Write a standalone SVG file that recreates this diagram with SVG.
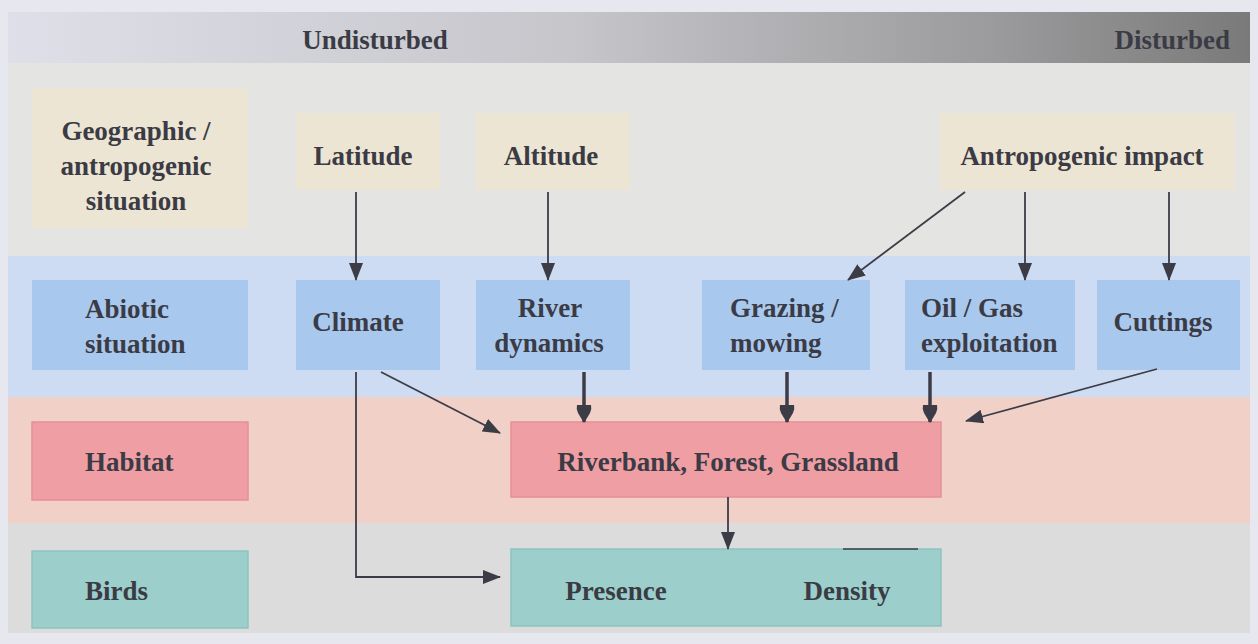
<svg xmlns="http://www.w3.org/2000/svg" width="1258" height="644" viewBox="0 0 1258 644">
<style>
.t{font-family:"Liberation Serif","Times New Roman",serif;font-weight:bold;font-size:27px;fill:#3b3b45}
.c{text-anchor:middle}
.y{fill:#ede5d3}
.b{fill:#a9c8ee}
.r{fill:#ef9ea3;stroke:#e68f96;stroke-width:1.5}
.g{fill:#9ccfcb;stroke:#8cc3bf;stroke-width:1.5}
.ln{fill:none;stroke:#3c3c46;stroke-width:1.8}
.th{fill:none;stroke:#3c3c46;stroke-width:3.5}
</style>
<defs>
<linearGradient id="bar" x1="0" y1="0" x2="1" y2="0">
<stop offset="0" stop-color="#dedfe8"/>
<stop offset="0.45" stop-color="#c6c6cb"/>
<stop offset="0.8" stop-color="#9a9a9c"/>
<stop offset="1" stop-color="#7a7a7a"/>
</linearGradient>
<marker id="a" viewBox="0 0 18 14" refX="17" refY="7" markerWidth="18" markerHeight="14" markerUnits="userSpaceOnUse" orient="auto">
<path d="M0,0 L18,7 L0,14 z" fill="#3c3c46"/>
</marker>
<marker id="ab" viewBox="0 0 18 16" refX="17" refY="8" markerWidth="18" markerHeight="16" markerUnits="userSpaceOnUse" orient="auto">
<path d="M0,1 Q4,0 8,2 L18,8 L8,14 Q4,16 0,15 z" fill="#3c3c46"/>
</marker>
</defs>
<rect width="1258" height="644" fill="#e6e7ef"/>
<g id="bands">
<rect x="8" y="12" width="1242" height="51" fill="url(#bar)"/>
<rect x="8" y="63" width="1242" height="193" fill="#e4e4e2"/>
<rect x="8" y="256" width="1242" height="141" fill="#cedcf3"/>
<rect x="8" y="397" width="1242" height="126" fill="#f0d0c7"/>
<rect x="8" y="523" width="1242" height="110" fill="#dcdcdc"/>
<text class="t c" x="375" y="49">Undisturbed</text>
<text class="t" x="1230" y="49" text-anchor="end">Disturbed</text>
</g>
<g id="geo"><rect class="y" x="32" y="88" width="216" height="140"/>
<text class="t c" x="136" y="140">Geographic /</text><text class="t c" x="136" y="175">antropogenic</text><text class="t c" x="136" y="210">situation</text></g>
<g id="latitude"><rect class="y" x="296" y="113" width="144" height="77"/><text class="t c" x="363" y="165">Latitude</text></g>
<g id="altitude"><rect class="y" x="476" y="113" width="154" height="77"/><text class="t c" x="551" y="165">Altitude</text></g>
<g id="antro"><rect class="y" x="940" y="113" width="295" height="77"/><text class="t c" x="1082" y="165">Antropogenic impact</text></g>
<g id="abiotic"><rect class="b" x="32" y="280" width="216" height="90"/><text class="t" x="85" y="318">Abiotic</text><text class="t" x="85" y="353">situation</text></g>
<g id="climate"><rect class="b" x="296" y="280" width="144" height="90"/><text class="t c" x="358" y="331">Climate</text></g>
<g id="river"><rect class="b" x="476" y="280" width="154" height="90"/><text class="t c" x="550" y="317">River</text><text class="t c" x="549" y="352">dynamics</text></g>
<g id="grazing"><rect class="b" x="702" y="280" width="168" height="90"/><text class="t" x="730" y="317">Grazing /</text><text class="t" x="730" y="352">mowing</text></g>
<g id="oil"><rect class="b" x="905" y="280" width="170" height="90"/><text class="t" x="921" y="317">Oil / Gas</text><text class="t" x="921" y="352">exploitation</text></g>
<g id="cuttings"><rect class="b" x="1097" y="280" width="143" height="90"/><text class="t c" x="1163" y="331">Cuttings</text></g>
<g id="habitat"><rect class="r" x="32" y="422" width="216" height="78"/><text class="t" x="85" y="471">Habitat</text></g>
<g id="riverbank"><rect class="r" x="511" y="422" width="430" height="75"/><text class="t c" x="728" y="471">Riverbank, Forest, Grassland</text></g>
<g id="birds"><rect class="g" x="32" y="551" width="216" height="77"/><text class="t" x="85" y="600">Birds</text></g>
<g id="presence"><rect class="g" x="511" y="549" width="430" height="77"/><line x1="843" y1="549" x2="918" y2="549" stroke="#3c3c46" stroke-width="1.5"/>
<text class="t c" x="616" y="600">Presence</text><text class="t c" x="847" y="600">Density</text></g>
<g id="connectors">
<line class="ln" x1="356" y1="192" x2="356" y2="280" marker-end="url(#a)"/>
<line class="ln" x1="548" y1="192" x2="548" y2="280" marker-end="url(#a)"/>
<line class="ln" x1="965" y1="192" x2="848" y2="280" marker-end="url(#a)"/>
<line class="ln" x1="1025" y1="192" x2="1025" y2="280" marker-end="url(#a)"/>
<line class="ln" x1="1169" y1="192" x2="1169" y2="280" marker-end="url(#a)"/>
<line class="ln" x1="381" y1="372" x2="500" y2="433" marker-end="url(#a)"/>
<line class="th" x1="584" y1="372" x2="584" y2="422" marker-end="url(#ab)"/>
<line class="th" x1="787" y1="372" x2="787" y2="422" marker-end="url(#ab)"/>
<line class="th" x1="930" y1="372" x2="930" y2="422" marker-end="url(#ab)"/>
<line class="ln" x1="1157" y1="369" x2="966" y2="421" marker-end="url(#a)"/>
<path class="ln" d="M356,372 V577 H500" marker-end="url(#a)"/>
<line class="ln" x1="728" y1="497" x2="728" y2="549" marker-end="url(#a)"/>
</g>
</svg>
